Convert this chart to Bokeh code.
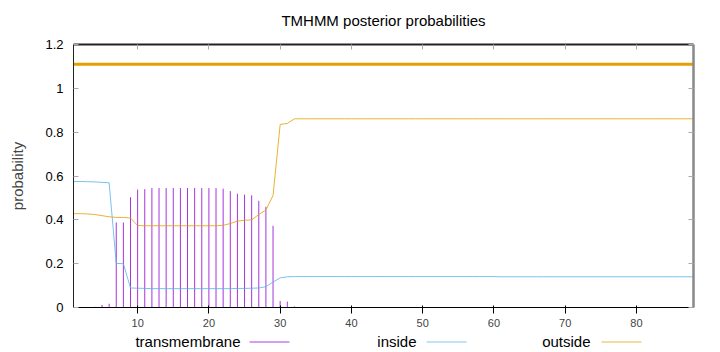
from bokeh.plotting import figure
from bokeh.models import Range1d, LinearAxis, ColumnDataSource, CustomLabelingPolicy
from bokeh.layouts import column
from bokeh.embed import file_html
from bokeh.resources import INLINE
from bokeh.core.properties import value

# ---------------- data ----------------
position = list(range(1, 89))

transmembrane = [
    0.0, 0.0, 0.0, 0.003, 0.012, 0.017, 0.388, 0.388, 0.503, 0.538,
    0.540, 0.545, 0.545, 0.545, 0.545, 0.545, 0.545, 0.545, 0.545, 0.545,
    0.545, 0.542, 0.531, 0.519, 0.515, 0.512, 0.487, 0.460, 0.373, 0.030,
    0.027, 0.005, 0.0, 0.0, 0.0, 0.0, 0.0, 0.0, 0.0, 0.0,
    0.0, 0.0, 0.0, 0.0, 0.0, 0.0, 0.0, 0.0, 0.0, 0.0,
    0.0, 0.0, 0.0, 0.0, 0.0, 0.0, 0.0, 0.0, 0.0, 0.0,
    0.0, 0.0, 0.0, 0.0, 0.0, 0.0, 0.0, 0.0, 0.0, 0.0,
    0.0, 0.0, 0.0, 0.0, 0.0, 0.0, 0.0, 0.0, 0.0, 0.0,
    0.0, 0.0, 0.0, 0.0, 0.0, 0.0, 0.0, 0.0,
]

inside = [
    0.575, 0.575, 0.574, 0.573, 0.571, 0.569, 0.201, 0.200, 0.089, 0.088,
    0.087, 0.086, 0.086, 0.086, 0.086, 0.086, 0.086, 0.086, 0.086, 0.086,
    0.086, 0.086, 0.086, 0.087, 0.087, 0.088, 0.089, 0.095, 0.116, 0.135,
    0.140, 0.141, 0.141, 0.141, 0.141, 0.141, 0.141, 0.141, 0.141, 0.141,
    0.141, 0.141, 0.141, 0.141, 0.141, 0.141, 0.141, 0.141, 0.141, 0.141,
    0.141, 0.141, 0.141, 0.141, 0.141, 0.141, 0.141, 0.141, 0.141, 0.141,
    0.140, 0.140, 0.140, 0.140, 0.140, 0.140, 0.140, 0.140, 0.140, 0.140,
    0.140, 0.140, 0.140, 0.140, 0.140, 0.140, 0.140, 0.140, 0.140, 0.140,
    0.140, 0.140, 0.140, 0.140, 0.140, 0.140, 0.140, 0.140,
]

outside = [
    0.428, 0.428, 0.427, 0.424, 0.419, 0.414, 0.411, 0.411, 0.408, 0.374,
    0.373, 0.373, 0.373, 0.373, 0.373, 0.373, 0.373, 0.373, 0.373, 0.373,
    0.373, 0.375, 0.383, 0.394, 0.398, 0.400, 0.424, 0.445, 0.511, 0.835,
    0.840, 0.861, 0.861, 0.861, 0.861, 0.861, 0.861, 0.861, 0.861, 0.861,
    0.861, 0.861, 0.861, 0.861, 0.861, 0.861, 0.861, 0.861, 0.861, 0.861,
    0.861, 0.861, 0.861, 0.861, 0.861, 0.861, 0.861, 0.861, 0.861, 0.861,
    0.861, 0.861, 0.861, 0.861, 0.861, 0.861, 0.861, 0.861, 0.861, 0.861,
    0.861, 0.861, 0.861, 0.861, 0.861, 0.861, 0.861, 0.861, 0.861, 0.861,
    0.861, 0.861, 0.861, 0.861, 0.861, 0.861, 0.861, 0.861,
]

# predicted topology drawn above the curves
topology_label = ["outside"]
topology_start = [1]
topology_end = [88]
topology_level = [1.11]

x_ticks = [10, 20, 30, 40, 50, 60, 70, 80]
y_ticks = [0, 0.2, 0.4, 0.6, 0.8, 1, 1.2]
y_tick_labels = ["0", "0.2", "0.4", "0.6", "0.8", "1", "1.2"]

title_text = "TMHMM posterior probabilities"
legend_labels = ["transmembrane", "inside", "outside"]

# ---------------- style ----------------
FONT = "Liberation Sans"
C_TM = "#9400d3"
C_IN = "#56b4e9"
C_OUT = "#e69f00"

FRAME_L, FRAME_R = 73, 693
TITLE_H = 34


def strip(height):
    # text strip whose frame is aligned (by the column) with the chart frame;
    # its ranges are expressed in page pixels
    f = figure(width=720, height=height, x_range=Range1d(FRAME_L, FRAME_R),
               y_range=Range1d(height, 0),
               output_backend="svg", toolbar_location=None,
               min_border_left=FRAME_L, min_border_right=720 - FRAME_R,
               min_border_top=0, min_border_bottom=0,
               x_axis_location=None, y_axis_location=None)
    f.outline_line_color = None
    f.grid.visible = False
    return f


# ---------------- title strip ----------------
tf = strip(TITLE_H)
tf.text(x=[(FRAME_L + FRAME_R) / 2], y=[20], text=[title_text],
        text_align="center", text_baseline="middle",
        text_font=value(FONT), text_font_size="15px", text_color="black")

# ---------------- main chart ----------------
p = figure(
    width=720, height=332 - TITLE_H,
    x_range=Range1d(1, 88), y_range=Range1d(0, 1.2),
    output_backend="svg", toolbar_location=None,
    min_border_left=FRAME_L, min_border_right=720 - FRAME_R,
    min_border_top=44 - TITLE_H, min_border_bottom=25,
)
p.outline_line_color = None
p.grid.visible = False
p.background_fill_color = "white"
p.border_fill_color = "white"

src = ColumnDataSource(dict(x=position, tm=transmembrane, inside=inside, outside=outside,
                            base=[0.0] * len(position)))

p.segment(x0="x", y0="base", x1="x", y1="tm", source=src,
          line_color=C_TM, line_width=1, line_alpha=0.8)
p.line("x", "inside", source=src, line_color=C_IN, line_width=1, line_alpha=0.8)
p.line("x", "outside", source=src, line_color=C_OUT, line_width=1, line_alpha=0.8)

topo = ColumnDataSource(dict(x0=topology_start, x1=topology_end,
                             y=topology_level, label=topology_label))
p.segment(x0="x0", y0="y", x1="x1", y1="y", source=topo,
          line_color=C_OUT, line_width=3)

# axes
p.xaxis.ticker = x_ticks
p.yaxis.ticker = y_ticks
p.yaxis.major_label_overrides = {t: s for t, s in zip(y_ticks, y_tick_labels)}

no_labels = CustomLabelingPolicy(code="""
    for (const i of Array.from(indices)) { indices.unset(i) }
    return indices
""")

top_axis = LinearAxis(ticker=x_ticks)
right_axis = LinearAxis(ticker=y_ticks)
p.add_layout(top_axis, "above")
p.add_layout(right_axis, "right")

for ax in [p.xaxis[0], p.yaxis[0], top_axis, right_axis]:
    ax.major_tick_in = 5
    ax.major_tick_out = 0
    ax.minor_tick_in = 0
    ax.minor_tick_out = 0
    ax.major_tick_line_color = "#aaaaaa"
    ax.major_label_text_font = FONT
    ax.major_label_text_font_size = "13px"
    ax.major_label_text_color = "black"

for ax in [top_axis, right_axis]:
    ax.major_label_text_font_size = "0px"
    ax.major_label_standoff = 0
    ax.major_label_policy = no_labels

p.xaxis[0].axis_line_color = "#888888"
p.xaxis[0].axis_line_width = 2
p.xaxis[0].major_label_standoff = 11
right_axis.axis_line_color = "#888888"
right_axis.axis_line_width = 2.5
top_axis.axis_line_color = "#222222"
p.yaxis[0].axis_line_color = "#222222"
p.yaxis[0].major_label_standoff = 10

p.yaxis[0].axis_label = "probability"
p.yaxis[0].axis_label_text_font = FONT
p.yaxis[0].axis_label_text_font_size = "15px"
p.yaxis[0].axis_label_text_font_style = "normal"
p.yaxis[0].axis_label_standoff = 16

# ---------------- legend strip (gnuplot style: text then sample) ----------------
lf = strip(20)
lf.text(x=[240, 416, 590], y=[9, 9, 9], text=legend_labels,
        text_align="right", text_baseline="middle",
        text_font=value(FONT), text_font_size="15px", text_color="black")
lf.segment(x0=[249, 426, 601], y0=[9.5, 9.5, 9.5], x1=[289, 466, 641], y1=[9.5, 9.5, 9.5],
           line_color=[C_TM, C_IN, C_OUT], line_width=1, line_alpha=0.75)

layout = column(tf, p, lf, spacing=0)
open("out.html", "w").write(file_html(layout, INLINE))
